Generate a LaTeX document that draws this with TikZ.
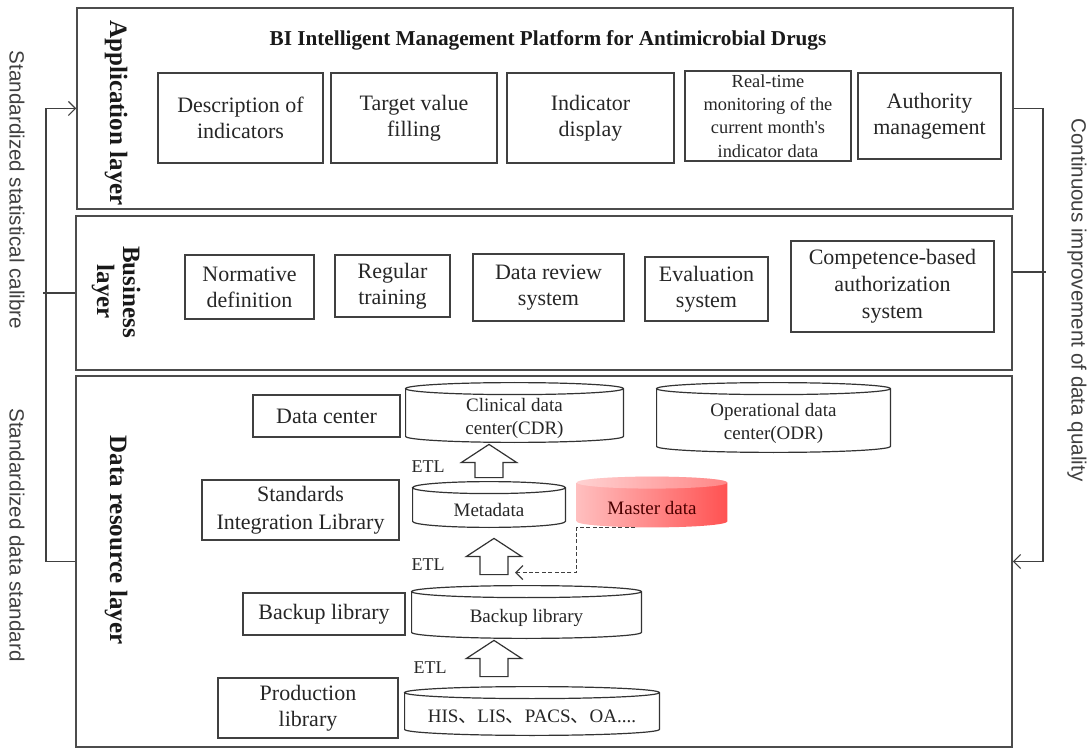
\documentclass[tikz,border=0pt]{standalone}
\usepackage{fontspec}
\setmainfont{Liberation Serif}
\setsansfont{Liberation Sans}
\newfontfamily\cjkfont{Noto Sans CJK SC}
\usetikzlibrary{arrows.meta,calc,backgrounds}

\tikzset{
  wh/.style 2 args={minimum width=#1pt, minimum height=#2pt},
  layerbox/.style={draw=black!70, line width=0.75pt, inner sep=0pt},
  itembox/.style={draw=black!75, line width=0.6pt, align=center, inner sep=1pt,
    text=black!85, font=\fontsize{11}{13}\selectfont},
  drumtext/.style={align=center, inner sep=0pt, text=black!85,
    font=\fontsize{9.5}{11.5}\selectfont},
  layername/.style={rotate=-90, align=center, text=black!90,
    font=\fontsize{12.5}{13}\selectfont\bfseries},
  sidenote/.style={rotate=-90, text=black!75, font=\sffamily\fontsize{10.3}{12}\selectfont},
  etl/.style={text=black!85, font=\fontsize{9}{11}\selectfont},
  rail/.style={draw=black!75, line width=0.6pt},
  link/.style={rail, -{Straight Barb[length=3.5pt,width=7pt]}},
}

% cylinder drawn round a node: lid above north, rounded base at south
\newcommand\drum[2][draw=black!80]{%
  \path[line width=0.6pt, #1] let \p1=(#2.north west), \p2=(#2.south east) in
    (\x1,\y1+3pt) -- (\x1,\y2+3pt)
    arc[start angle=180, end angle=360, x radius={(\x2-\x1)/2}, y radius=3pt]
    -- (\x2,\y1+3pt)
    arc[start angle=0, end angle=360, x radius={(\x2-\x1)/2}, y radius=3pt];}
\newcommand\drumlid[2][fill=white]{%
  \path[#1] let \p1=(#2.north west), \p2=(#2.south east) in
    (\x2,\y1+3pt) arc[start angle=0, end angle=360, x radius={(\x2-\x1)/2}, y radius=3pt];}
% hollow ETL arrow from tail #1 to tip #2, #3 marks its right side
\newcommand\etlarrow[3]{%
  \draw[draw=black!80, line width=0.6pt, fill=white] let \p1=#1, \p2=#2 in
    (\x1-7pt,\y1) -- (\x1-7pt,\y2-9pt) -- (\x1-13.75pt,\y2-9pt) -- (\x1,\y2)
    -- (\x1+13.75pt,\y2-9pt) -- (\x1+7pt,\y2-9pt) -- (\x1+7pt,\y1) -- cycle
    (\x1+10.5pt,\y1+1pt) coordinate (#3);}

\begin{document}
\begin{tikzpicture}[x=0.5pt, y=0.5pt]
  \useasboundingbox (0,0) rectangle (1089,-749);

  % three layers
  \node[layerbox, wh={468}{100.5}] (app) at (545,-108.5) {};
  \node[layerbox, wh={468}{77}] (bus) at (544,-293) {};
  \node[layerbox, wh={468}{185.5}] (data) at (544,-561.5) {};
  \node[layername] (applbl) at (116,-113) {Application layer};
  \node[layername] (buslbl) at (116,-292) {Business\\layer};
  \node[layername] (datalbl) at (116,-540) {Data resource layer};

  % application layer
  \node[text=black!90, font=\fontsize{10.6}{12}\selectfont\bfseries] (title) at (548,-40)
    {BI Intelligent Management Platform for Antimicrobial Drugs};
  \node[itembox, wh={82.5}{45}] (desc) at (240.5,-118) {Description of\\indicators};
  \node[itembox, wh={83}{45}] (target) at (414,-118) {Target value\\filling};
  \node[itembox, wh={83.5}{45}] (show) at (590.5,-118) {Indicator\\display};
  \node[itembox, wh={83}{45}, font=\fontsize{9.2}{11.6}\selectfont] (monitor) at (768,-116)
    {Real-time\\monitoring of the\\current month\textquotesingle s\\indicator data};
  \node[itembox, wh={71.5}{43}] (auth) at (929.5,-116) {Authority\\management};

  % business layer
  \node[itembox, wh={64.5}{32}] (norm) at (249.5,-287) {Normative\\definition};
  \node[itembox, wh={57.5}{31}] (train) at (392.5,-286) {Regular\\training};
  \node[itembox, wh={75.5}{33.5}] (review) at (548.5,-287.5) {Data review\\system};
  \node[itembox, wh={61.5}{32}] (eval) at (706.5,-289) {Evaluation\\system};
  \node[itembox, wh={101.5}{45.5}, font=\fontsize{11}{13.5}\selectfont] (comp) at (892.5,-286.5)
    {Competence-based\\authorization\\system};

  % data resource layer
  \node[itembox, wh={73.5}{21}] (dcbox) at (326.5,-416) {Data center};
  \node[drumtext, wh={108.5}{23.5}] (cdr) at (514.5,-418.5) {Clinical data\\center(CDR)};
  \node[drumtext, wh={116.5}{28.5}] (odr) at (773.5,-423.5) {Operational data\\center(ODR)};
  \node[itembox, wh={98.5}{30}, font=\fontsize{11}{14}\selectfont] (stdbox) at (300.5,-510)
    {Standards\\Integration Library};
  \node[drumtext, wh={76}{16.5}] (meta) at (489,-510.5) {Metadata};
  \node[drumtext, wh={75}{19}, text=red!30!black] (master) at (652,-508) {Master data};
  \node[itembox, wh={81}{21}] (bkbox) at (324,-614) {Backup library};
  \node[drumtext, wh={114.5}{20}] (bk) at (526.5,-618) {Backup library};
  \node[itembox, wh={90}{30}] (prodbox) at (308,-708) {Production\\library};
  \node[drumtext, wh={127}{18}] (his) at (532,-717)
    {HIS{\cjkfont 、}LIS{\cjkfont 、}PACS{\cjkfont 、}OA....};

  \drum{cdr}
  \drum{odr}
  \drum{meta}
  \drum{bk}
  \drum{his}
  \begin{scope}[on background layer]
    \drum[left color=red!25, right color=red!68]{master}
    \drumlid[fill=white, fill opacity=0.3]{master}
  \end{scope}

  \node[etl] (etl1) at (428,-467) {ETL};
  \node[etl] (etl2) at (428,-565) {ETL};
  \node[etl] (etl3) at (430,-668) {ETL};
  \etlarrow{([yshift=8pt]meta.north)}{([yshift=-1pt]cdr.south)}{a1}
  \etlarrow{([xshift=-16.25pt,yshift=11.5pt]bk.north)}{([yshift=-5.5pt]meta.south)}{a2}
  \etlarrow{([xshift=-19pt,yshift=11pt]his.north)}{([yshift=-1pt]bk.south)}{a3}
  \draw[link, dash pattern=on 2pt off 1.2pt] ([xshift=-8.5pt]master.south) -- (master.south west) |- (a2);

  % feedback rails
  \coordinate (lrail) at (46,0);
  \coordinate (rrail) at (1043,0);
  \draw[link] (data.west) -- (data.west -| lrail) |- (app.west);
  \draw[rail] (bus.west) -- ([xshift=-1.5pt]bus.west -| lrail);
  \draw[link] (app.east) -- (app.east -| rrail) |- (data.east);
  \draw[rail] ([yshift=10.5pt]bus.east) -- ([xshift=1.5pt,yshift=10.5pt]bus.east -| rrail);
  \node[sidenote] (calibre) at (17,-190) {Standardized statistical calibre};
  \node[sidenote] (datastd) at (17,-535) {Standardized data standard};
  \node[sidenote] (quality) at (1077,-300) {Continuous improvement of data quality};
\end{tikzpicture}
\end{document}
